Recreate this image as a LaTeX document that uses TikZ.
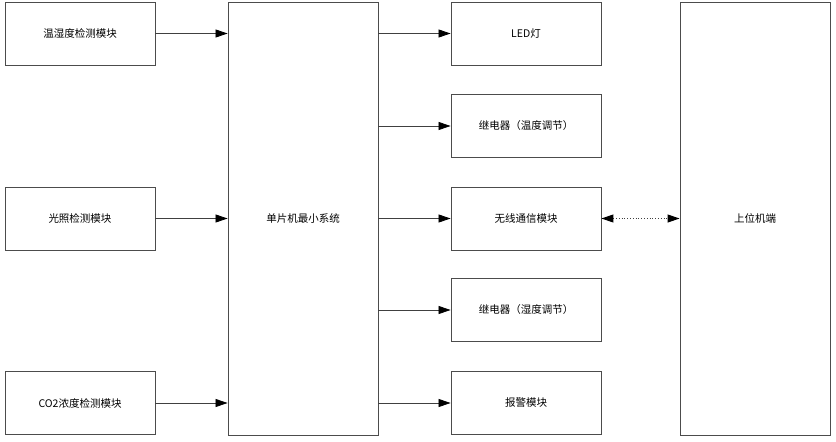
\documentclass[tikz,border=0pt]{standalone}
\usepackage{fontspec}
\setmainfont{Noto Sans CJK SC}
\usetikzlibrary{arrows.meta}
\tikzset{
  blk/.style={draw=black!70, line width=0.9pt, minimum width=150pt, minimum height=63pt, inner sep=0pt, font=\fontsize{10.5}{12}\selectfont},
  tall/.style={blk, minimum height=433pt},
  blktip/.tip={Triangle[length=12pt,width=8pt,color=black]},
  link/.style={draw=black!75, line width=0.8pt, -blktip},
}
\begin{document}
\begin{tikzpicture}[x=1pt,y=-1pt]
\useasboundingbox (0,0) rectangle (836,442);
\node[blk] (temp) at (80,33.5) {温湿度检测模块};
\node[blk] (light) at (80,218.5) {光照检测模块};
\node[blk] (co2) at (80,403) {CO2浓度检测模块};
\node[tall] (mcu) at (303,218.5) {单片机最小系统};
\node[blk] (led) at (526,33.5) {LED灯};
\node[blk] (relayt) at (526,126) {继电器（温度调节）};
\node[blk] (wifi) at (526,218.5) {无线通信模块};
\node[blk] (relayh) at (526,310) {继电器（湿度调节）};
\node[blk] (alarm) at (526,403) {报警模块};
\node[tall] (host) at (755,218.5) {上位机端};
\draw[link] (temp.east) -- (temp.east -| mcu.west);
\draw[link] (light.east) -- (light.east -| mcu.west);
\draw[link] (co2.east) -- (co2.east -| mcu.west);
\draw[link] (led.west -| mcu.east) -- (led.west);
\draw[link] (relayt.west -| mcu.east) -- (relayt.west);
\draw[link] (wifi.west -| mcu.east) -- (wifi.west);
\draw[link] (relayh.west -| mcu.east) -- (relayh.west);
\draw[link] (alarm.west -| mcu.east) -- (alarm.west);
\draw[link, blktip-blktip, dotted, line width=1.1pt] (wifi.east) -- (wifi.east -| host.west);
\end{tikzpicture}
\end{document}
